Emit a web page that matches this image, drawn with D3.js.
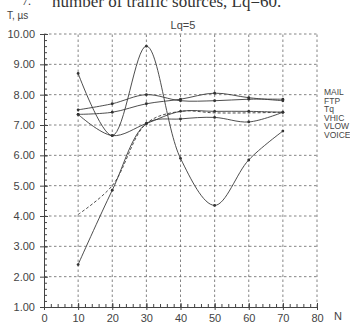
<!DOCTYPE html>
<html>
<head>
<meta charset="utf-8">
<script src="https://cdn.jsdelivr.net/npm/d3@7"></script>
<style>
  body { margin: 0; background: #fff; }
  svg text { font-family: 'Liberation Sans', sans-serif; fill: #444; }
</style>
</head>
<body>
<div id="chart"></div>
<script>
// data
const nValues = [10, 20, 30, 40, 50, 60, 70];
const mail  = [7.50, 7.70, 8.00, 7.80, 7.80, 7.85, 7.85];
const ftp   = [7.35, 7.42, 7.70, 7.85, 8.05, 7.90, 7.80];
const tq    = [7.35, 6.65, 7.05, 7.45, 7.45, 7.45, 7.42];
const vhic  = [2.40, 4.85, 7.05, 7.20, 7.25, 7.10, 7.42];
const vlow  = [4.05, 5.00, 7.05, 7.45, 7.40, 7.40, 7.42];
const voice = [8.70, 6.65, 9.60, 5.90, 4.35, 5.85, 6.80];
const seriesNames = ['MAIL', 'FTP', 'Tq', 'VHIC', 'VLOW', 'VOICE'];
const yTicks = [1, 2, 3, 4, 5, 6, 7, 8, 9, 10];
const xTicks = [0, 10, 20, 30, 40, 50, 60, 70, 80];

const width = 350, height = 324;
const svg = d3.select('#chart').append('svg')
  .attr('width', width)
  .attr('height', height);

const x = d3.scaleLinear().domain([0, 80]).range([44, 317]);
const y = d3.scaleLinear().domain([1, 10]).range([307, 34]);

// cut-off caption line from the page above
svg.append('text').attr('x', 52).attr('y', 7)
  .style('font-family', "'Liberation Serif', serif").style('font-size', '17px').style('fill', '#333')
  .text('number of traffic sources, Lq=60.');
svg.append('text').attr('x', 22).attr('y', 5)
  .style('font-family', "'Liberation Serif', serif").style('font-size', '12px').style('fill', '#333')
  .text('7.');

svg.append('text').attr('x', 7).attr('y', 19).style('font-size', '10px').text('T, \u00b5s');
svg.append('text').attr('x', 183).attr('y', 29).attr('text-anchor', 'middle')
  .style('font-size', '11px').text('Lq=5');

// grid
const grid = svg.append('g').attr('stroke', '#666').attr('stroke-width', 0.8)
  .attr('stroke-dasharray', '2.5,2.5');
grid.selectAll('.hg').data(yTicks.slice(1)).enter().append('line')
  .attr('x1', x(0)).attr('x2', x(80))
  .attr('y1', d => y(d)).attr('y2', d => y(d));
grid.selectAll('.vg').data(xTicks.slice(1)).enter().append('line')
  .attr('x1', d => x(d)).attr('x2', d => x(d))
  .attr('y1', y(1)).attr('y2', y(10));

// axes
const yAxis = svg.append('g').attr('transform', `translate(${x(0)},0)`)
  .call(d3.axisLeft(y).tickValues(yTicks).tickFormat(d3.format('.2f')).tickSize(4).tickSizeOuter(0))
  .call(g => g.select('.domain').attr('stroke', '#444'));
yAxis.selectAll('text').style('font-size', '11px').attr('x', -9).style('fill', '#444');
yAxis.selectAll('.tick line').attr('stroke', '#444').attr('x2', 4).attr('x1', -4);
svg.append('g').attr('transform', `translate(${x(0)},0)`)
  .call(d3.axisRight(y).ticks(45).tickFormat('').tickSize(3).tickSizeOuter(0))
  .call(g => g.select('.domain').remove())
  .selectAll('line').attr('stroke', '#444');

const xAxis = svg.append('g').attr('transform', `translate(0,${y(1)})`)
  .call(d3.axisBottom(x).tickValues(xTicks).tickSize(4).tickSizeOuter(0))
  .call(g => g.select('.domain').attr('stroke', '#444'));
xAxis.selectAll('text').style('font-size', '11px').attr('y', 7).style('fill', '#444');
xAxis.selectAll('.tick line').attr('stroke', '#444').attr('y1', -4).attr('y2', 3);
svg.append('g').attr('transform', `translate(0,${y(1)})`)
  .call(d3.axisTop(x).ticks(40).tickFormat('').tickSize(3).tickSizeOuter(0))
  .call(g => g.select('.domain').remove())
  .selectAll('line').attr('stroke', '#444');

svg.append('text').attr('x', 334).attr('y', 320).style('font-size', '11px').text('N');

// curves
const series = [mail, ftp, tq, vhic, vlow, voice].map((vals, i) => ({
  name: seriesNames[i],
  dashed: seriesNames[i] === 'VLOW',
  pts: vals.map((v, j) => ({ n: nValues[j], v }))
}));
const line = d3.line().x(d => x(d.n)).y(d => y(d.v)).curve(d3.curveCatmullRom.alpha(0.5));

svg.append('g').selectAll('path').data(series).enter().append('path')
  .attr('d', d => line(d.pts))
  .attr('fill', 'none')
  .attr('stroke', '#3a3a3a')
  .attr('stroke-width', 0.9)
  .attr('stroke-dasharray', d => d.dashed ? '3,2' : null);

svg.append('g').selectAll('circle')
  .data(series.filter(s => !s.dashed).flatMap(s => s.pts))
  .enter().append('circle')
  .attr('cx', d => x(d.n)).attr('cy', d => y(d.v)).attr('r', 1.4)
  .attr('fill', '#333');

// legend
svg.append('g').selectAll('text').data(seriesNames).enter().append('text')
  .attr('x', 324).attr('y', (d, i) => 95 + i * 8.6)
  .style('font-size', '8.5px')
  .text(d => d);
</script>
</body>
</html>
